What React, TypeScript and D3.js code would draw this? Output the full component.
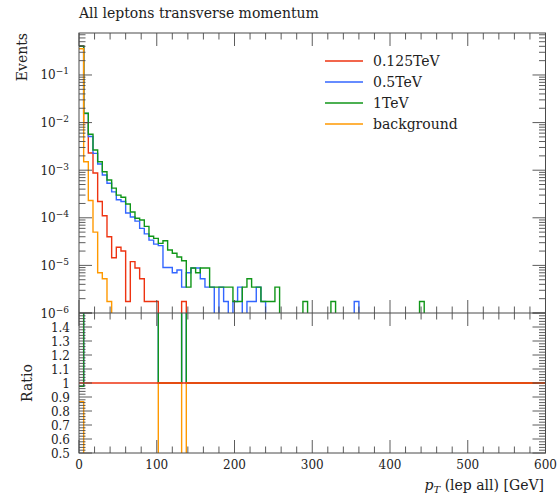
import React from 'react';
import * as d3 from 'd3';

// ---- data (bins of 6 GeV from 0 to 600; bins past the end of an array are empty) ----
const X_MIN = 0;
const X_MAX = 600;
const BIN_WIDTH = 6;
const Y_MIN = 1e-6;
const Y_MAX = 0.762;

const SERIES_NAMES = ['0.125TeV', '0.5TeV', '1TeV', 'background'];
const SERIES_COLORS = ['#EE3311', '#3366FF', '#109618', '#FF9900'];

const RED_0125 = [
  0.41, 1.0e-2, 2.3e-3, 8.7e-4, 2.2e-4, 1.1e-4, 4.0e-5, 1.45e-5, 2.4e-5, 2.0e-5,
  1.75e-6, 1.2e-5, 8.8e-6, 5.25e-6, 1.75e-6, 1.75e-6, 1.75e-6, 0, 0, 0,
  0, 0, 1.75e-6,
];

const BLUE_05 = [
  0.40, 1.55e-2, 5.1e-3, 2.26e-3, 1.35e-3, 7.9e-4, 5.3e-4, 3.5e-4, 2.4e-4, 2.2e-4,
  1.26e-4, 1.04e-4, 8.5e-5, 6.0e-5, 4.6e-5, 3.4e-5, 2.8e-5, 2.6e-5, 9.0e-6, 9.0e-6,
  7.0e-6, 8.0e-6, 3.5e-6, 7.0e-6, 8.8e-6, 8.8e-6, 5.25e-6, 3.5e-6, 3.5e-6, 0,
  3.5e-6, 1.75e-6, 0, 1.75e-6, 3.5e-6, 0, 1.75e-6, 1.75e-6, 3.5e-6, 1.75e-6,
  0, 0, 0, 0, 0, 0, 0, 0, 0, 0,
  0, 0, 0, 0, 0, 0, 0, 0, 0, 1.75e-6,
];

const GREEN_1 = [
  0.40, 1.57e-2, 5.7e-3, 2.65e-3, 1.5e-3, 9.3e-4, 6.2e-4, 4.2e-4, 3.0e-4, 2.7e-4,
  1.95e-4, 1.32e-4, 9.8e-5, 9.0e-5, 6.6e-5, 4.1e-5, 3.7e-5, 2.9e-5, 3.3e-5, 2.1e-5,
  1.8e-5, 1.5e-5, 1.25e-5, 3.5e-6, 8.8e-6, 7.0e-6, 8.8e-6, 8.8e-6, 3.5e-6, 3.5e-6,
  3.5e-6, 3.5e-6, 3.5e-6, 1.75e-6, 1.75e-6, 3.5e-6, 5.25e-6, 3.5e-6, 3.5e-6, 1.75e-6,
  1.75e-6, 1.75e-6, 3.5e-6, 0, 0, 0, 0, 0, 1.75e-6, 0,
  0, 0, 0, 0, 1.75e-6, 0, 0, 0, 0, 0,
  0, 0, 0, 0, 0, 0, 0, 0, 0, 0,
  0, 0, 0, 1.75e-6,
];

const ORANGE_BKG = [0.355, 1.5e-3, 2.3e-4, 5.0e-5, 7.0e-6, 5.25e-6, 1.75e-6];

const X_MAJOR_TICKS = [0, 100, 200, 300, 400, 500, 600];
const Y_DECADES = [-6, -5, -4, -3, -2, -1];
const RATIO_LABELS = [1.4, 1.3, 1.2, 1.1, 1.0, 0.9, 0.8, 0.7, 0.6, 0.5];

const SERIES = [RED_0125, BLUE_05, GREEN_1, ORANGE_BKG];

export default function App() {
  const W = 560;
  const H = 499;
  const left = 79;
  const right = 545.5;
  const top = 33;
  const mid = 313;
  const bottom = 453;
  const font = '"DejaVu Serif", serif';
  const frame = '#4a4a4a';

  const x = d3.scaleLinear().domain([X_MIN, X_MAX]).range([left, right]);
  const y = d3.scaleLog().domain([Y_MIN, Y_MAX]).range([mid, top]);
  const yr = d3.scaleLinear().domain([0.5, 1.5]).range([bottom, mid]);

  const edges = d3.range(X_MIN, X_MAX + BIN_WIDTH / 2, BIN_WIDTH);
  const nBins = edges.length - 1;
  const val = (arr: number[], i: number) => (i < arr.length ? arr[i] : 0);

  const stepPath = (vals: number[]) => {
    let d = '';
    for (let i = 0; i < nBins; i++) {
      const yy = vals[i];
      d += (i === 0 ? 'M' : 'L') + x(edges[i]) + ',' + yy + 'L' + x(edges[i + 1]) + ',' + yy;
    }
    return d;
  };

  const mainPaths = SERIES.map((s) => {
    const ys: number[] = [];
    for (let i = 0; i < nBins; i++) {
      const v = val(s, i);
      ys.push(v > 0 ? y(v) : mid + 40);
    }
    return stepPath(ys);
  });

  const ratioPaths = SERIES.map((s) => {
    const ys: number[] = [];
    for (let i = 0; i < nBins; i++) {
      const ref = val(RED_0125, i);
      const r = ref > 0 ? val(s, i) / ref : 1;
      ys.push(Math.max(Math.min(yr(r), bottom + 40), mid - 40));
    }
    return stepPath(ys);
  });

  // ticks
  const xMinor = d3.range(X_MIN, X_MAX + 1, 20).filter((v) => v % 100 !== 0);
  const yMinor: number[] = [];
  Y_DECADES.forEach((k) => {
    for (let m = 2; m <= 9; m++) {
      const v = m * Math.pow(10, k);
      if (v <= Y_MAX) yMinor.push(v);
    }
  });
  const rMajor = d3.range(5, 16).map((v) => v / 10);
  const rMinor = d3.range(25, 76).map((v) => v / 50).filter((v) => Math.abs(v * 10 - Math.round(v * 10)) > 1e-6);

  const MAJ = 13;
  const MIN = 6.5;
  const tickLines: React.ReactNode[] = [];
  let key = 0;
  const hTick = (yy: number, len: number) => {
    tickLines.push(<line key={key++} x1={left} x2={left + len} y1={yy} y2={yy} />);
    tickLines.push(<line key={key++} x1={right} x2={right - len} y1={yy} y2={yy} />);
  };
  const vTick = (xx: number, len: number) => {
    tickLines.push(<line key={key++} x1={xx} x2={xx} y1={top} y2={top + len} />);
    tickLines.push(<line key={key++} x1={xx} x2={xx} y1={mid} y2={mid - len} />);
    tickLines.push(<line key={key++} x1={xx} x2={xx} y1={mid} y2={mid + len} />);
    tickLines.push(<line key={key++} x1={xx} x2={xx} y1={bottom} y2={bottom - len} />);
  };
  X_MAJOR_TICKS.forEach((v) => vTick(x(v), MAJ));
  xMinor.forEach((v) => vTick(x(v), MIN));
  Y_DECADES.forEach((k) => hTick(y(Math.pow(10, k)), MAJ));
  yMinor.forEach((v) => hTick(y(v), MIN));
  rMajor.forEach((v) => hTick(yr(v), MAJ));
  rMinor.forEach((v) => hTick(yr(v), MIN));

  return (
    <svg
      width={W}
      height={H}
      style={{ position: 'absolute', left: 0, top: 0, display: 'block', background: '#fff' }}
      fontFamily={font}
    >
      <defs>
        <clipPath id="clipMain">
          <rect x={left} y={top} width={right - left} height={mid - top} />
        </clipPath>
        <clipPath id="clipRatio">
          <rect x={left} y={mid} width={right - left} height={bottom - mid} />
        </clipPath>
      </defs>

      <text x={79} y={18} fontSize={14} fill="#222">All leptons transverse momentum</text>

      <g clipPath="url(#clipMain)" fill="none" strokeWidth={1.4}>
        {mainPaths.map((d, i) => (
          <path key={i} d={d} stroke={SERIES_COLORS[i]} />
        ))}
      </g>

      <g clipPath="url(#clipRatio)" fill="none" strokeWidth={1.4}>
        {[1, 2, 3, 0].map((i) => (
          <path key={i} d={ratioPaths[i]} stroke={SERIES_COLORS[i]} />
        ))}
      </g>

      <g stroke={frame} strokeWidth={0.9}>{tickLines}</g>
      <rect x={left} y={top} width={right - left} height={bottom - top} fill="none" stroke={frame} strokeWidth={1} />
      <line x1={left} x2={right} y1={mid} y2={mid} stroke={frame} strokeWidth={1} />

      {/* main y tick labels */}
      <g fontSize={12} fill="#222" textAnchor="end">
        {Y_DECADES.map((k) => (
          <text key={k} x={69} y={y(Math.pow(10, k)) + 4.5}>
            10<tspan dy={-5} fontSize={9}>{'\u2212' + Math.abs(k)}</tspan>
          </text>
        ))}
      </g>

      {/* ratio tick labels */}
      <g fontSize={12} fill="#222" textAnchor="end">
        {RATIO_LABELS.map((v) => (
          <text key={v} x={70} y={yr(v) + 4.5}>{String(+v.toFixed(1))}</text>
        ))}
      </g>

      {/* x tick labels */}
      <g fontSize={12} fill="#222" textAnchor="middle">
        {X_MAJOR_TICKS.map((v) => (
          <text key={v} x={x(v)} y={469}>{v}</text>
        ))}
      </g>

      <text transform={`translate(27,${top}) rotate(-90)`} textAnchor="end" fontSize={14} fill="#222">Events</text>
      <text transform={`translate(32,${yr(1)}) rotate(-90)`} textAnchor="middle" fontSize={14} fill="#222">Ratio</text>

      <text x={544} y={490} textAnchor="end" fontSize={14} fill="#222">
        <tspan fontStyle="italic">p</tspan>
        <tspan fontStyle="italic" fontSize={10} dy={3}>T</tspan>
        <tspan dy={-3}> (lep all) [GeV]</tspan>
      </text>

      {/* legend */}
      <g fontSize={14} fill="#222">
        {SERIES_NAMES.map((n, i) => (
          <g key={n}>
            <line x1={325} x2={363} y1={61 + i * 21} y2={61 + i * 21} stroke={SERIES_COLORS[i]} strokeWidth={1.6} />
            <text x={373} y={61 + i * 21 + 5}>{n}</text>
          </g>
        ))}
      </g>
    </svg>
  );
}
